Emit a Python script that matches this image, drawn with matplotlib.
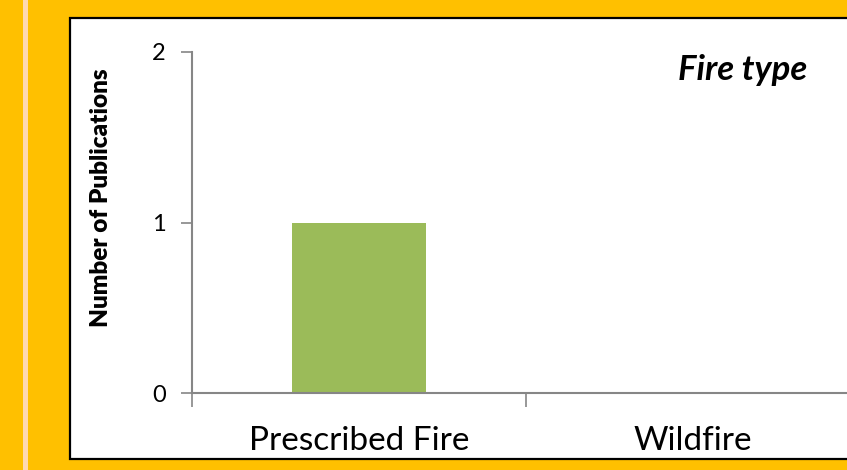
import matplotlib.pyplot as plt
from matplotlib.patches import Rectangle

categories = ["Prescribed Fire", "Wildfire"]
publications = [1, 0]
y_ticks = [0, 1, 2]

plt.rcParams['font.family'] = ['Lato', 'DejaVu Sans']

fig = plt.figure(figsize=(8.47, 4.70), dpi=100)
fig.patch.set_facecolor('#FFC000')

# light stripe on the left
fig.add_artist(Rectangle((23/847, 0), 5/847, 1, transform=fig.transFigure,
                         facecolor='#FFD9B0', edgecolor='none', zorder=-2))
# white chart box
fig.add_artist(Rectangle((70/847, 11/470), 800/847, 441/470, transform=fig.transFigure,
                         facecolor='white', edgecolor='black', linewidth=1.6, zorder=-1))

ax = fig.add_axes([192/847, 77/470, 668/847, 341/470])
ax.set_zorder(1)
ax.set_facecolor('none')
x = range(len(categories))
ax.bar(x, publications, width=0.4, color='#9BBB59')

ax.set_xlim(-0.5, 1.5)
ax.set_ylim(0, 2)
ax.set_yticks(y_ticks)
ax.set_xticks([-0.5, 0.5, 1.5])
ax.set_xticklabels([])
ax.set_xticks(list(x), minor=True)
ax.set_xticklabels(categories, minor=True, fontsize=24)
ax.tick_params(axis='x', which='major', length=10, width=1.2, color='#868686')
ax.tick_params(axis='x', which='minor', length=0, pad=24)
ax.tick_params(axis='y', length=8, width=1.2, color='#868686', labelsize=17, pad=11)

for s in ['top', 'right']:
    ax.spines[s].set_visible(False)
for s in ['left', 'bottom']:
    ax.spines[s].set_color('#868686')
    ax.spines[s].set_linewidth(1.5)

ax.set_ylabel("Number of Publications", fontsize=17.5, fontweight='heavy',
              va='center', ha='center')
ax.yaxis.set_label_coords(-91/668, 0.573)

fig.text(743/847, 1 - 70/470, "Fire type", fontsize=25, fontweight='bold',
         fontstyle='italic', ha='center', va='center', zorder=2)

fig.savefig('out.png', dpi=100, facecolor=fig.get_facecolor())
